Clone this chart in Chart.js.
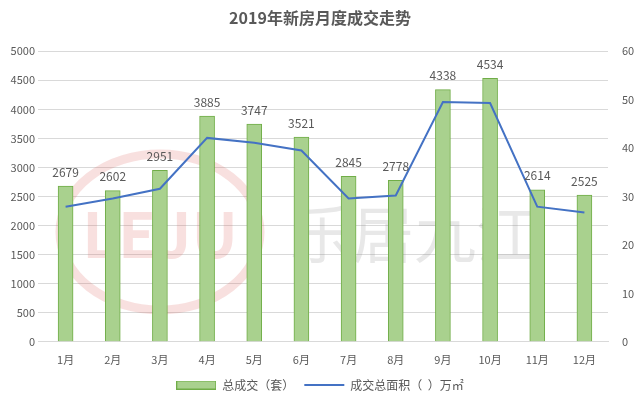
<!DOCTYPE html>
<html>
<head>
<meta charset="utf-8">
<script src="https://cdn.jsdelivr.net/npm/chart.js@4"></script>
<style>
  html, body { margin: 0; padding: 0; background: #fff; }
  #wrap { width: 640px; height: 405px; }
</style>
</head>
<body>
<div id="wrap"><canvas id="chart" width="640" height="405"></canvas></div>
<script>
const months = ["1月", "2月", "3月", "4月", "5月", "6月", "7月", "8月", "9月", "10月", "11月", "12月"];
const totalDeals = [2679, 2602, 2951, 3885, 3747, 3521, 2845, 2778, 4338, 4534, 2614, 2525];
const totalArea = [27.9, 29.6, 31.6, 42.1, 41.1, 39.5, 29.6, 30.2, 49.5, 49.3, 27.9, 26.7];

const fontCN = '"Noto Sans CJK SC", "Noto Sans", sans-serif';

// legend swatch for the bars
let barSwatch = document.createElement("canvas");
barSwatch.width = 40;
barSwatch.height = 9;
let sw = barSwatch.getContext("2d");
sw.fillStyle = "#a9d18e";
sw.fillRect(0, 0, 40, 9);
sw.strokeStyle = "#70ad47";
sw.lineWidth = 1;
sw.strokeRect(0.5, 0.5, 39, 8);

// numbers above the bars
const barLabels = {
  id: "barLabels",
  afterDatasetsDraw(chart) {
    let c = chart.ctx;
    let meta = chart.getDatasetMeta(0);
    c.save();
    c.font = "12px " + fontCN;
    c.fillStyle = "#595959";
    c.textAlign = "center";
    c.textBaseline = "bottom";
    meta.data.forEach(function (bar, i) {
      c.fillText(totalDeals[i], bar.x, bar.y - 8);
    });
    c.restore();
  }
};

// faint LEJU watermark behind the chart
const watermark = {
  id: "watermark",
  beforeDatasetsDraw(chart) {
    let c = chart.ctx;
    c.save();
    c.globalAlpha = 0.18;
    c.strokeStyle = "#d9534f";
    c.lineWidth = 9;
    c.beginPath();
    c.ellipse(160, 232, 100, 78, 0, 0, Math.PI * 2);
    c.stroke();
    c.fillStyle = "#d9534f";
    c.font = "bold 62px " + fontCN;
    c.textAlign = "center";
    c.textBaseline = "middle";
    c.fillText("LEJU", 160, 234);
    c.fillStyle = "#808080";
    c.font = "62px " + fontCN;
    c.textAlign = "left";
    c.fillText("乐居九江", 290, 234);
    c.restore();
  }
};

let ctx = document.getElementById("chart").getContext("2d");
let myChart = new Chart(ctx, {
  data: {
    labels: months,
    datasets: [
      {
        type: "bar",
        label: "总成交（套）",
        data: totalDeals,
        yAxisID: "y",
        backgroundColor: "#a9d18e",
        borderColor: "#70ad47",
        borderWidth: 1,
        barThickness: 15,
        pointStyle: barSwatch,
        order: 2
      },
      {
        type: "line",
        label: "成交总面积（  ）万㎡",
        data: totalArea,
        yAxisID: "y1",
        borderColor: "#4472c4",
        backgroundColor: "#4472c4",
        borderWidth: 2,
        pointRadius: 0,
        pointStyle: "line",
        tension: 0,
        order: 1
      }
    ]
  },
  options: {
    responsive: false,
    animation: false,
    layout: { padding: { left: 0, right: 0, top: 0, bottom: 4 } },
    plugins: {
      title: {
        display: true,
        text: "2019年新房月度成交走势",
        color: "#595959",
        font: { family: fontCN, size: 16, weight: "bold" },
        padding: { top: 8, bottom: 24 }
      },
      legend: {
        position: "bottom",
        labels: {
          color: "#595959",
          font: { family: fontCN, size: 12 },
          usePointStyle: true,
          pointStyleWidth: 40,
          boxHeight: 9,
          sort: function (a, b) { return a.datasetIndex - b.datasetIndex; }
        }
      },
      tooltip: { enabled: false }
    },
    scales: {
      x: {
        grid: { display: false },
        border: { color: "#d9d9d9" },
        ticks: { color: "#595959", font: { family: fontCN, size: 11 } }
      },
      y: {
        position: "left",
        min: 0,
        max: 5000,
        ticks: {
          stepSize: 500,
          color: "#595959",
          font: { family: fontCN, size: 11 },
          callback: function (v) { return String(v); }
        },
        grid: { color: "#d9d9d9", tickLength: 4 },
        border: { display: false },
        afterFit(scale) { scale.width = 42; }
      },
      y1: {
        position: "right",
        min: 0,
        max: 60,
        ticks: { stepSize: 10, color: "#595959", font: { family: fontCN, size: 11 }, padding: 6 },
        grid: { display: false },
        border: { display: false },
        afterFit(scale) { scale.width = 32; }
      }
    }
  },
  plugins: [watermark, barLabels]
});
</script>
</body>
</html>
